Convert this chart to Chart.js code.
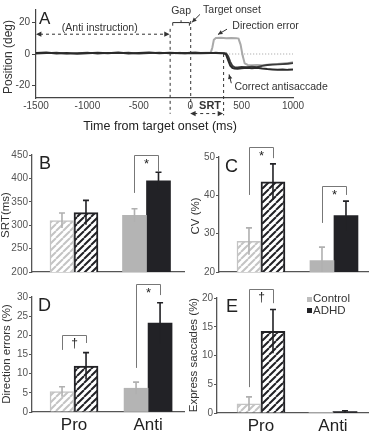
<!DOCTYPE html>
<html><head><meta charset="utf-8">
<script src="https://cdn.jsdelivr.net/npm/chart.js@4"></script>
<style>
html,body{margin:0;padding:0;background:#fff;}
#wrap{position:relative;width:369px;height:437px;overflow:hidden;background:#fff;}
canvas{position:absolute;}
</style></head><body><div id="wrap">
<canvas id="cA" width="369" height="140" style="left:0;top:0"></canvas>
<canvas id="cB" width="185" height="140" style="left:0;top:140px"></canvas>
<canvas id="cC" width="184" height="140" style="left:185px;top:140px"></canvas>
<canvas id="cD" width="185" height="159" style="left:0;top:278px"></canvas>
<canvas id="cE" width="184" height="159" style="left:185px;top:278px"></canvas>
</div>
<script>
// ---------------- DATA ----------------
const categories = ['Pro', 'Anti'];

// Panel A: eye position traces (ms, deg)
const traceTimes = [-1500,-1400,-1300,-1200,-1100,-1000,-900,-800,-700,-600,-500,-400,-300,-200,-100,0,100,200,250,300,330,350,370,390,410,430,460,500,550,600,650,700,750,800,850,900,950,1000];
const correctTrace1 = [0.6,0.9,0.3,0.7,0.2,0.5,0.8,0.4,0.9,0.3,0.7,1.0,0.5,0.8,0.4,0.6,0.5,0.7,0.6,0.5,0.4,-0.5,-4,-7.5,-8.8,-9.3,-9.4,-9.0,-8.8,-9.0,-8.7,-9.2,-9.6,-9.8,-10.0,-9.8,-10.1,-9.9];
const correctTrace2 = [0.3,0.5,0.8,0.2,0.6,0.9,0.3,0.7,0.5,0.8,0.3,0.6,0.9,0.4,0.7,0.5,0.7,0.5,0.8,0.6,0.5,0.4,-1.5,-5,-7.5,-8.3,-8.5,-8.2,-8.4,-8.0,-8.3,-7.5,-7.0,-6.8,-6.6,-6.4,-6.2,-5.8];
const errorTimes = [-150,-100,-50,0,50,100,150,200,215,230,250,300,350,400,450,470,490,510,530,560,600,650,700,750,800,850,900,950,1000];
const errorTrace = [0.5,0.8,0.4,0.9,1.3,0.6,0.8,1.0,4,9,10.2,10.4,10.0,10.2,10.1,9.8,6,-1,-6,-7,-7.2,-7.0,-7.1,-6.8,-6.5,-6.3,-6.0,-5.8,-5.3];
const refLineTimes = [350, 1000];
const refLineValues = [0, 0];
const aXTicks = [-1500,-1000,-500,0,500,1000];
const aYTicks = [-20,0,20];
const gapStart = -200, targetOnset = 0, srtTime = 320;

// Panel B: SRT (ms)
const srtControl = [310, 321], srtControlErr = [16, 14];
const srtAdhd = [327, 395], srtAdhdErr = [26, 18];
const srtTicks = [200,250,300,350,400,450];
// Panel C: CV (%)
const cvControl = [28, 23], cvControlErr = [3.5, 3.5];
const cvAdhd = [43.5, 34.7], cvAdhdErr = [4.7, 3.8];
const cvTicks = [20,30,40,50];
// Panel D: Direction errors (%)
const deControl = [5.3, 6.2], deControlErr = [1.3, 1.6];
const deAdhd = [12.0, 23.2], deAdhdErr = [3.5, 5.3];
const deTicks = [0,5,10,15,20,25,30];
// Panel E: Express saccades (%)
const exControl = [1.6, 0.05], exControlErr = [1.2, 0];
const exAdhd = [14.2, 0.25], exAdhdErr = [3.8, 0.15];
const exTicks = [0,5,10,15,20];

// significance brackets: [category index, left end, top, right end, mark]
const srtSig = [[1, 369, 450, 414, '*']];
const cvSig = [[0, 40.1, 52.6, 49.7, '*'], [1, 32.8, 42.4, 40.1, '*']];
const deSig = [[0, 16.2, 20.1, 18, '\u2020'], [1, 11.5, 33.4, 30.5, '*']];
const exSig = [[0, 4.5, 21.6, 19.1, '\u2020']];

// ---------------- STYLE ----------------
const FONT = "'Liberation Sans', Arial, Helvetica, sans-serif";
Chart.defaults.font.family = FONT;
Chart.defaults.color = '#444';
const CTRL = '#b4b4b4', CTRL_H = '#c4c4c4', ADHD = '#222226', AXIS = '#555';

function hatch(color, lw) {
  const s = 7;
  const c = document.createElement('canvas'); c.width = s; c.height = s;
  const g = c.getContext('2d');
  g.fillStyle = '#fff'; g.fillRect(0, 0, s, s);
  g.strokeStyle = color; g.lineWidth = lw;
  g.beginPath();
  for (const o of [-s, 0, s]) { g.moveTo(o, s); g.lineTo(o + s, 0); }
  g.stroke();
  return g.createPattern(c, 'repeat');
}

function vText(ctx, txt, x, y, size) {
  ctx.save();
  ctx.translate(x, y); ctx.rotate(-Math.PI / 2);
  ctx.font = size + 'px ' + FONT; ctx.fillStyle = '#333';
  ctx.textAlign = 'center'; ctx.textBaseline = 'middle';
  ctx.fillText(txt, 0, 0);
  ctx.restore();
}
function letter(ctx, txt, x, y, size) {
  ctx.save();
  ctx.font = size + 'px ' + FONT; ctx.fillStyle = '#222';
  ctx.textAlign = 'left'; ctx.textBaseline = 'alphabetic';
  ctx.fillText(txt, x, y);
  ctx.restore();
}
function head(ctx, x1, y1, x2, y2, size) {
  const a = Math.atan2(y2 - y1, x2 - x1);
  ctx.beginPath();
  ctx.moveTo(x2, y2);
  ctx.lineTo(x2 - size * Math.cos(a - 0.45), y2 - size * Math.sin(a - 0.45));
  ctx.lineTo(x2 - size * Math.cos(a + 0.45), y2 - size * Math.sin(a + 0.45));
  ctx.closePath(); ctx.fill();
}

const base = {
  animation: false, responsive: false, devicePixelRatio: 1, events: [],
};

// ---------------- PANEL A ----------------
const annotA = {
  id: 'annotA',
  afterDraw(chart) {
    const ctx = chart.ctx, xs = chart.scales.x, ys = chart.scales.y;
    const X = v => xs.getPixelForValue(v), Y = v => ys.getPixelForValue(v);
    ctx.save();
    ctx.strokeStyle = '#333'; ctx.fillStyle = '#333'; ctx.lineWidth = 1;
    ctx.setLineDash([3, 3]);
    [[gapStart, 16, -38], [targetOnset, 21, -36], [srtTime, 0, -39]].forEach(([t, a, b]) => {
      ctx.beginPath(); ctx.moveTo(X(t) + 0.5, Y(a)); ctx.lineTo(X(t) + 0.5, Y(b)); ctx.stroke();
    });
    ctx.beginPath(); ctx.moveTo(X(-1500) + 4, Y(12.6)); ctx.lineTo(X(gapStart) - 4, Y(12.6)); ctx.stroke();
    ctx.beginPath(); ctx.moveTo(X(targetOnset) + 4, Y(-37.9)); ctx.lineTo(X(srtTime) - 4, Y(-37.9)); ctx.stroke();
    ctx.setLineDash([]);
    head(ctx, X(-1400), Y(12.6), X(-1500), Y(12.6), 6);
    head(ctx, X(-300), Y(12.6), X(gapStart), Y(12.6), 6);
    head(ctx, X(150), Y(-37.9), X(targetOnset), Y(-37.9), 6);
    head(ctx, X(200), Y(-37.9), X(srtTime), Y(-37.9), 6);
    ctx.beginPath();
    ctx.moveTo(X(-170), Y(18)); ctx.lineTo(X(-170), Y(20)); ctx.lineTo(X(-8), Y(20)); ctx.lineTo(X(-8), Y(18));
    ctx.moveTo(X(-89), Y(20)); ctx.lineTo(X(-89), Y(21.5));
    ctx.stroke();
    const arr = (t1, v1, t2, v2) => { ctx.beginPath(); ctx.moveTo(X(t1), Y(v1)); ctx.lineTo(X(t2), Y(v2)); ctx.stroke(); head(ctx, X(t1), Y(v1), X(t2), Y(v2), 5); };
    arr(95, 25.2, 18, 20.2);
    arr(358, 15.8, 270, 12.4);
    arr(400, -18.6, 378, -13.0);
    ctx.font = '10.5px ' + FONT; ctx.fillStyle = '#333'; ctx.textBaseline = 'middle';
    ctx.textAlign = 'center';
    ctx.fillText('(Anti instruction)', X(-880), Y(16.4));
    ctx.fillText('Gap', X(-89), Y(27));
    ctx.textAlign = 'left';
    ctx.fillText('Target onset', X(125), Y(27.7));
    ctx.fillText('Direction error', X(410), Y(17.7));
    ctx.fillText('Correct antisaccade', X(430), Y(-20.8));
    ctx.font = 'bold 11px ' + FONT; ctx.textAlign = 'center';
    ctx.fillText('SRT', X(193), Y(-33.2));
    ctx.font = '12.5px ' + FONT; ctx.fillStyle = '#222';
    ctx.fillText('Time from target onset (ms)', 160, 127);
    ctx.restore();
    vText(ctx, 'Position (deg)', 9, 57, 12);
    letter(ctx, 'A', 39, 24, 17);
  }
};

new Chart(document.getElementById('cA'), {
  type: 'line',
  data: { datasets: [
    { data: traceTimes.map((t, i) => ({ x: t, y: correctTrace1[i] })), borderColor: '#2a2a2a', borderWidth: 2 },
    { data: traceTimes.map((t, i) => ({ x: t, y: correctTrace2[i] })), borderColor: '#3a3a3a', borderWidth: 1.8 },
    { data: errorTimes.map((t, i) => ({ x: t, y: errorTrace[i] })), borderColor: '#a9a9a9', borderWidth: 2 },
    { data: refLineTimes.map((t, i) => ({ x: t, y: refLineValues[i] })), borderColor: '#888', borderWidth: 0.8, borderDash: [1, 2] }
  ] },
  options: Object.assign({}, base, {
    layout: { padding: { top: 10, right: 76, left: 0, bottom: 0 } },
    elements: { point: { radius: 0 }, line: { tension: 0 } },
    plugins: { legend: { display: false }, tooltip: { enabled: false } },
    scales: {
      x: { type: 'linear', min: -1500, max: 1000, offset: false,
        afterBuildTicks(s) { s.ticks = aXTicks.map(v => ({ value: v })); },
        grid: { display: false, drawTicks: false }, border: { display: true, color: '#444', width: 1.2 },
        ticks: { font: { size: 10 }, color: '#444', padding: 2, callback: v => String(v) },
        afterFit(s) { s.height = 42; } },
      y: { type: 'linear', min: -28, max: 28,
        afterBuildTicks(s) { s.ticks = aYTicks.map(v => ({ value: v })); },
        grid: { display: true, drawOnChartArea: false, tickLength: 4, color: '#444' },
        border: { display: true, color: '#444', width: 1.2 },
        ticks: { font: { size: 10 }, color: '#444', padding: 2, callback: v => String(v) },
        afterFit(s) { s.width = 36; } }
    }
  }),
  plugins: [annotA]
});

// ---------------- BAR PANELS ----------------
function barPanel(id, o) {
  const deco = {
    id: 'deco' + id,
    afterDatasetsDraw(chart) {
      const ctx = chart.ctx, ys = chart.scales.y;
      chart.data.datasets.forEach((ds, di) => {
        const meta = chart.getDatasetMeta(di);
        meta.data.forEach((el, i) => {
          const v = ds.data[i].y, e = ds.errors[i];
          if (!e) return;
          const top = ys.getPixelForValue(v + e), bot = ys.getPixelForValue(Math.max(v - e, ys.min));
          ctx.save();
          ctx.strokeStyle = ds.errColor; ctx.lineWidth = 1.6;
          ctx.beginPath();
          ctx.moveTo(el.x, top); ctx.lineTo(el.x, bot);
          ctx.moveTo(el.x - 3, top); ctx.lineTo(el.x + 3, top);
          ctx.stroke(); ctx.restore();
        });
      });
      const m0 = chart.getDatasetMeta(0), m1 = chart.getDatasetMeta(1);
      o.sig.forEach(([ci, l, t, r, mk]) => {
        const xl = Math.round(m0.data[ci].x) + 0.5, xr = Math.round(m1.data[ci].x) + 0.5;
        const yl = ys.getPixelForValue(l), yt = Math.round(ys.getPixelForValue(t)) + 0.5, yr = ys.getPixelForValue(r);
        ctx.save();
        ctx.strokeStyle = '#777'; ctx.lineWidth = 1;
        ctx.beginPath(); ctx.moveTo(xl, yl); ctx.lineTo(xl, yt); ctx.lineTo(xr, yt); ctx.lineTo(xr, yr); ctx.stroke();
        ctx.fillStyle = '#222'; ctx.textAlign = 'center'; ctx.textBaseline = 'middle';
        if (mk === '*') { ctx.font = '13px ' + FONT; ctx.fillText(mk, (xl + xr) / 2, yt + 9); }
        else { ctx.font = '12px ' + FONT; ctx.fillText(mk, (xl + xr) / 2, yt + 8); }
        ctx.restore();
      });
    },
    afterDraw(chart) {
      const ctx = chart.ctx;
      vText(ctx, o.title, o.titleX, o.titleY, 11.5);
      letter(ctx, o.letter, o.letterX, o.letterY, 18);
      if (o.legend) {
        ctx.save();
        ctx.font = '11.5px ' + FONT; ctx.textBaseline = 'middle'; ctx.textAlign = 'left';
        ctx.fillStyle = '#bdbdbd'; ctx.fillRect(122, 19, 5, 5);
        ctx.fillStyle = ADHD; ctx.fillRect(122, 30, 5, 5);
        ctx.fillStyle = '#333';
        ctx.fillText('Control', 128, 21);
        ctx.fillText('ADHD', 128, 32.5);
        ctx.restore();
      }
    }
  };
  return new Chart(document.getElementById(id), {
    type: 'bar',
    data: { datasets: [
      { label: 'Control', data: categories.map((c, i) => ({ x: i + 1, y: o.control[i] })),
        errors: o.controlErr, errColor: '#b0b0b0',
        backgroundColor: [hatch(CTRL_H, 2), CTRL], borderColor: [CTRL_H, CTRL], borderWidth: [1.5, 0] },
      { label: 'ADHD', data: categories.map((c, i) => ({ x: i + 1, y: o.adhd[i] })),
        errors: o.adhdErr, errColor: ADHD,
        backgroundColor: [hatch(ADHD, 2), ADHD], borderColor: [ADHD, ADHD], borderWidth: [2, 0] }
    ] },
    options: Object.assign({}, base, {
      layout: { padding: { top: o.top, right: o.right, left: 0, bottom: 0 } },
      datasets: { bar: { barThickness: 24, grouped: true, borderSkipped: 'start' } },
      plugins: { legend: { display: false }, tooltip: { enabled: false } },
      scales: {
        x: { type: 'linear', min: o.xMin, max: o.xMax, offset: false,
          afterBuildTicks(s) { s.ticks = categories.map((c, i) => ({ value: i + 1 })); },
          grid: { display: false, drawTicks: false, offset: false }, border: { display: true, color: AXIS, width: 1.3 },
          ticks: { display: o.showX, font: { size: 17 }, color: '#222', padding: 3, callback: v => categories[v - 1] },
          afterFit(s) { s.height = o.xh; } },
        y: { type: 'linear', min: o.ticks[0], max: o.ticks[o.ticks.length - 1],
          afterBuildTicks(s) { s.ticks = o.ticks.map(v => ({ value: v })); },
          grid: { display: true, drawOnChartArea: false, tickLength: 3, color: AXIS },
          border: { display: true, color: AXIS, width: 1.3 },
          ticks: { font: { size: 10 }, color: '#555', padding: 1 },
          afterFit(s) { s.width = o.left; } }
      }
    }),
    plugins: [deco]
  });
}

barPanel('cB', { control: srtControl, controlErr: srtControlErr, adhd: srtAdhd, adhdErr: srtAdhdErr,
  ticks: srtTicks, sig: srtSig, left: 32, top: 15, right: 0, xh: 8, xMin: 0.421, xMax: 2.531, showX: false,
  title: 'SRT(ms)', titleX: 6, titleY: 75, letter: 'B', letterX: 39, letterY: 29 });
barPanel('cC', { control: cvControl, controlErr: cvControlErr, adhd: cvAdhd, adhdErr: cvAdhdErr,
  ticks: cvTicks, sig: cvSig, left: 34, top: 17, right: 1, xh: 8, xMin: 0.425, xMax: 2.466, showX: false,
  title: 'CV (%)', titleX: 11, titleY: 76, letter: 'C', letterX: 40, letterY: 32 });
barPanel('cD', { control: deControl, controlErr: deControlErr, adhd: deAdhd, adhdErr: deAdhdErr,
  ticks: deTicks, sig: deSig, left: 32, top: 19, right: 0, xh: 25, xMin: 0.432, xMax: 2.499, showX: true,
  title: 'Direction errors (%)', titleX: 7, titleY: 76, letter: 'D', letterX: 38, letterY: 33 });
barPanel('cE', { control: exControl, controlErr: exControlErr, adhd: exAdhd, adhdErr: exAdhdErr,
  ticks: exTicks, sig: exSig, left: 32, top: 20, right: 1, xh: 24, xMin: 0.389, xMax: 2.486, showX: true,
  title: 'Express saccades (%)', titleX: 9, titleY: 77, letter: 'E', letterX: 41, letterY: 34, legend: true });
</script>
</body></html>
